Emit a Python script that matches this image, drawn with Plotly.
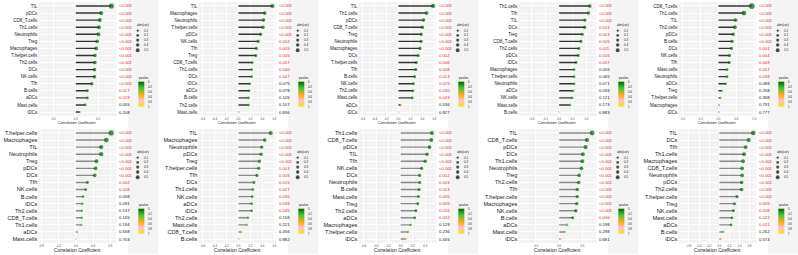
import plotly.graph_objects as go

W, H = 798, 255
LT = 0.0005  # stands for "<0.001"

# ---------------- data (one block per panel, row-major) ----------------
p1_cells = ["TIL", "pDCs", "CD8_T.cells", "Th1.cells", "Neutrophils", "Treg", "Macrophages", "T.helper.cells",
            "Th2.cells", "DCs", "NK.cells", "Tfh", "B.cells", "aDCs", "Mast.cells", "iDCs"]
p1_cor = [0.80, 0.57, 0.54, 0.52, 0.51, 0.48, 0.46, 0.43, 0.43, 0.42, 0.42, 0.36, 0.26, 0.26, 0.21, 0.09]
p1_p = [LT] * 12 + [0.017, 0.019, 0.055, 0.208]
p1_ticks = [-0.5, 0.0, 0.5]
p1_range = [-0.84, 0.91]

p2_cells = ["TIL", "Macrophages", "Neutrophils", "T.helper.cells", "pDCs", "NK.cells", "Tfh", "Treg",
            "CD8_T.cells", "Th1.cells", "DCs", "iDCs", "aDCs", "B.cells", "Th2.cells", "Mast.cells"]
p2_cor = [0.57, 0.44, 0.42, 0.41, 0.37, 0.33, 0.30, 0.29, 0.23, 0.22, 0.22, 0.19, 0.18, 0.17, 0.17, 0.01]
p2_p = [LT] * 5 + [0.002, 0.005, 0.005, 0.037, 0.040, 0.047, 0.075, 0.078, 0.105, 0.107, 0.836]
p2_ticks = [-0.6, -0.4, -0.2, 0.0, 0.2, 0.4, 0.6]
p2_range = [-0.672, 0.633]

p3_cells = ["TIL", "Th1.cells", "pDCs", "CD8_T.cells", "Treg", "Neutrophils", "Macrophages", "DCs",
            "T.helper.cells", "Tfh", "B.cells", "NK.cells", "Th2.cells", "Mast.cells", "aDCs", "iDCs"]
p3_cor = [0.58, 0.47, 0.42, 0.40, 0.38, 0.38, 0.36, 0.33, 0.30, 0.29, 0.27, 0.25, 0.24, 0.23, 0.04, 0.005]
p3_p = [LT] * 7 + [0.002, 0.006, 0.008, 0.013, 0.025, 0.030, 0.043, 0.536, 0.827]
p3_ticks = [-0.6, -0.4, -0.2, 0.0, 0.2, 0.4, 0.6]
p3_range = [-0.672, 0.633]

p4_cells = ["Th1.cells", "Tfh", "TIL", "DCs", "Treg", "CD8_T.cells", "Th2.cells", "pDCs", "iDCs",
            "Macrophages", "T.helper.cells", "Neutrophils", "aDCs", "NK.cells", "Mast.cells", "B.cells"]
p4_cor = [0.45, 0.43, 0.38, 0.376, 0.34, 0.32, 0.29, 0.28, 0.25, 0.22, 0.22, 0.22, 0.20, 0.19, 0.16, -0.005]
p4_p = [LT] * 3 + [0.001, 0.003, 0.005, 0.011, 0.016, 0.037, 0.055, 0.065, 0.071, 0.094, 0.121, 0.173, 0.883]
p4_ticks = [-0.4, -0.2, 0.0, 0.2, 0.4]
p4_range = [-0.60, 0.546]

p5_cells = ["CD8_T.cells", "Th1.cells", "TIL", "Th2.cells", "pDCs", "B.cells", "DCs", "NK.cells", "Tfh",
            "Mast.cells", "Neutrophils", "aDCs", "Treg", "T.helper.cells", "Macrophages", "iDCs"]
p5_cor = [0.93, 0.71, 0.48, 0.46, 0.41, 0.38, 0.36, 0.31, 0.30, 0.24, 0.24, 0.20, 0.10, 0.065, 0.03, 0.02]
p5_p = [LT] * 6 + [0.001, 0.004, 0.009, 0.037, 0.039, 0.088, 0.258, 0.368, 0.791, 0.777]
p5_ticks = [-1.0, -0.5, 0.0, 0.5, 1.0]
p5_range = [-1.12, 1.056]

p6_cells = ["T.helper.cells", "Macrophages", "TIL", "Neutrophils", "Treg", "pDCs", "DCs", "Tfh", "NK.cells",
            "B.cells", "iDCs", "Th2.cells", "CD8_T.cells", "Th1.cells", "aDCs", "Mast.cells"]
p6_cor = [0.82, 0.71, 0.59, 0.59, 0.48, 0.46, 0.44, 0.27, 0.23, 0.17, 0.15, 0.14, 0.14, 0.13, 0.04, 0.005]
p6_p = [LT] * 7 + [0.002, 0.008, 0.058, 0.091, 0.137, 0.165, 0.194, 0.558, 0.703]
p6_ticks = [-0.8, -0.4, 0.0, 0.4, 0.8]
p6_range = [-0.87, 0.94]

p7_cells = ["TIL", "Macrophages", "Neutrophils", "pDCs", "Treg", "T.helper.cells", "Tfh", "DCs", "Th1.cells",
            "NK.cells", "aDCs", "iDCs", "Th2.cells", "Mast.cells", "CD8_T.cells", "B.cells"]
p7_cor = [0.54, 0.44, 0.39, 0.38, 0.35, 0.34, 0.31, 0.26, 0.24, 0.23, 0.22, 0.22, 0.16, 0.14, 0.05, 0.01]
p7_p = [LT] * 5 + [0.001, 0.005, 0.015, 0.027, 0.035, 0.039, 0.045, 0.159, 0.221, 0.456, 0.882]
p7_ticks = [-0.6, -0.4, -0.2, 0.0, 0.2, 0.4, 0.6]
p7_range = [-0.672, 0.633]

p8_cells = ["Th1.cells", "CD8_T.cells", "pDCs", "TIL", "Tfh", "NK.cells", "DCs", "Neutrophils", "B.cells",
            "Mast.cells", "Treg", "Th2.cells", "aDCs", "Macrophages", "T.helper.cells", "iDCs"]
p8_cor = [0.51, 0.50, 0.47, 0.43, 0.40, 0.34, 0.31, 0.31, 0.30, 0.29, 0.28, 0.25, 0.23, 0.16, 0.12, 0.08]
p8_p = [LT] * 6 + [0.002, 0.003, 0.003, 0.005, 0.005, 0.016, 0.032, 0.129, 0.236, 0.465]
p8_ticks = [-0.6, -0.4, -0.2, 0.0, 0.2, 0.4]
p8_range = [-0.69, 0.58]

p9_cells = ["TIL", "CD8_T.cells", "pDCs", "DCs", "Th1.cells", "Neutrophils", "Treg", "Th2.cells", "Tfh",
            "T.helper.cells", "Macrophages", "NK.cells", "B.cells", "aDCs", "Mast.cells", "iDCs"]
p9_cor = [0.71, 0.60, 0.57, 0.51, 0.50, 0.48, 0.43, 0.42, 0.39, 0.39, 0.38, 0.36, 0.29, 0.17, 0.12, 0.03]
p9_p = [LT] * 12 + [0.006, 0.198, 0.298, 0.681]
p9_ticks = [-0.5, 0.0, 0.5]
p9_range = [-0.88, 0.80]

p10_cells = ["TIL", "DCs", "Tfh", "Th1.cells", "Macrophages", "CD8_T.cells", "Neutrophils", "pDCs", "Th2.cells",
             "T.helper.cells", "Treg", "NK.cells", "Mast.cells", "aDCs", "B.cells", "iDCs"]
p10_cor = [0.67, 0.58, 0.52, 0.49, 0.47, 0.45, 0.45, 0.44, 0.44, 0.35, 0.30, 0.28, 0.25, 0.23, 0.08, 0.03]
p10_p = [LT] * 10 + [0.005, 0.008, 0.022, 0.031, 0.262, 0.574]
p10_ticks = [-0.6, -0.4, -0.2, 0.0, 0.2, 0.4, 0.6]
p10_range = [-0.81, 0.73]

size_breaks = [0.1, 0.2, 0.3, 0.4, 0.5]
pval_ticks = [0, 0.2, 0.4, 0.6, 0.8, 1]

panels = [
    (p1_cells, p1_cor, p1_p, p1_ticks, p1_range),
    (p2_cells, p2_cor, p2_p, p2_ticks, p2_range),
    (p3_cells, p3_cor, p3_p, p3_ticks, p3_range),
    (p4_cells, p4_cor, p4_p, p4_ticks, p4_range),
    (p5_cells, p5_cor, p5_p, p5_ticks, p5_range),
    (p6_cells, p6_cor, p6_p, p6_ticks, p6_range),
    (p7_cells, p7_cor, p7_p, p7_ticks, p7_range),
    (p8_cells, p8_cor, p8_p, p8_ticks, p8_range),
    (p9_cells, p9_cor, p9_p, p9_ticks, p9_range),
    (p10_cells, p10_cor, p10_p, p10_ticks, p10_range),
]

# ---------------- styling ----------------
FONT = "Liberation Sans, Arial, sans-serif"
COLORSCALE = [[0.0, "#006400"], [0.25, "#3CC43C"], [0.5, "#FFA500"], [0.75, "#FFC0CB"], [1.0, "#F7E21B"]]
SEG_COLORS = ["#333333", "#8a8a8a"]
LABEL_SIZE = [4.5, 5.6]
TITLE_SIZE = [3.8, 4.7]
RED = "#E3262E"
N_GRAD = 40  # colour-bar gradient steps


def dot_size(a):
    return 1.8 + 4.2 * abs(a)


def fmt_tick(v):
    return f"{v:.1f}"


def fmt_p(p):
    return "<0.001" if p < 0.001 else f"{p:.3f}"


PANEL_X = [0, 160, 320, 480, 640]
ROW_Y = [0, 127]
PLOT_L, PLOT_R = 38.3, 116.3
PLOT_T, PLOT_B = 2.1, 115.9
CB_X0, CB_X1, CB_Y0, CB_Y1 = 138.3, 144.0, 81.7, 107.0

fig = go.Figure()
layout = dict(
    width=W, height=H, margin=dict(l=0, r=0, t=0, b=0),
    paper_bgcolor="white", plot_bgcolor="#F3F3F3", showlegend=False, template="none",
    font=dict(family=FONT, color="#1a1a1a"),
)
annotations = []

for i, (cells, cor, pv, ticks, xr) in enumerate(panels):
    row, col = divmod(i, 5)
    ox, oy = PANEL_X[col], ROW_Y[row]
    n_main, n_leg = 2 * i + 1, 2 * i + 2
    xm = "x" if n_main == 1 else f"x{n_main}"
    ym = "y" if n_main == 1 else f"y{n_main}"
    xl, yl = f"x{n_leg}", f"y{n_leg}"
    xkey = "xaxis" if n_main == 1 else f"xaxis{n_main}"
    ykey = "yaxis" if n_main == 1 else f"yaxis{n_main}"
    ca = "coloraxis" if i == 0 else f"coloraxis{i + 1}"
    idx = list(range(len(cells)))

    # segments
    sx, sy = [], []
    for k, c in enumerate(cor):
        sx += [0, c, None]
        sy += [k, k, None]
    fig.add_trace(go.Scatter(x=sx, y=sy, mode="lines", xaxis=xm, yaxis=ym,
                             line=dict(color=SEG_COLORS[row], width=1.4), hoverinfo="skip"))
    # dots
    fig.add_trace(go.Scatter(x=cor, y=idx, mode="markers", xaxis=xm, yaxis=ym,
                             marker=dict(size=[dot_size(c) for c in cor], color=pv, coloraxis=ca,
                                         line=dict(width=0))))

    layout[xkey] = dict(
        domain=[(ox + PLOT_L) / W, (ox + PLOT_R) / W], range=xr, anchor=ym,
        tickvals=ticks, ticktext=[fmt_tick(t) for t in ticks],
        tickfont=dict(size=2.8, color="#4d4d4d"), ticks="", showline=False, zeroline=False,
        showgrid=True, gridcolor="white", gridwidth=0.5, fixedrange=True,
    )
    layout[ykey] = dict(
        domain=[1 - (oy + PLOT_B) / H, 1 - (oy + PLOT_T) / H], range=[len(cells) - 0.45, -0.55], anchor=xm,
        tickvals=idx, ticktext=cells, tickfont=dict(size=LABEL_SIZE[row], color="#1a1a1a"), ticks="",
        showline=False, zeroline=False, showgrid=True, gridcolor="white", gridwidth=0.5,
        fixedrange=True,
    )
    # axis title
    annotations.append(dict(
        x=(ox + (PLOT_L + PLOT_R) / 2) / W, xref="paper", y=1 - (oy + 123.0) / H, yref="paper",
        text="Correlation Coefficient", showarrow=False, xanchor="center", yanchor="middle",
        font=dict(size=TITLE_SIZE[row], color="#1a1a1a"),
    ))

    # p-value labels on the right
    for k, p in enumerate(pv):
        annotations.append(dict(
            x=1, xref=f"{xm} domain", y=k, yref=ym, text=fmt_p(p), showarrow=False,
            xanchor="left", yanchor="middle", xshift=1,
            font=dict(size=4.2, color=RED if p < 0.05 else "#1a1a1a"),
        ))

    # legend axes (panel pixel units)
    layout[f"xaxis{n_leg}"] = dict(domain=[(ox + 128) / W, (ox + 158) / W], range=[128, 158], anchor=yl,
                                   visible=False, fixedrange=True)
    layout[f"yaxis{n_leg}"] = dict(domain=[1 - (oy + 127) / H, 1 - oy / H], range=[127, 0], anchor=xl,
                                   visible=False, fixedrange=True)
    # size legend
    leg_y = [30.7, 35.4, 40.1, 45.0, 50.2]
    fig.add_trace(go.Scatter(x=[137.7] * len(size_breaks), y=leg_y, mode="markers", xaxis=xl, yaxis=yl,
                             marker=dict(size=[dot_size(s) for s in size_breaks], color="black",
                                         line=dict(width=0)), cliponaxis=False, hoverinfo="skip"))
    for s, yy in zip(size_breaks, leg_y):
        annotations.append(dict(x=141.5, y=yy, xref=xl, yref=yl, text=f"{s:.1f}", showarrow=False,
                                xanchor="left", yanchor="middle", font=dict(size=3.0, color="#1a1a1a")))
    annotations.append(dict(x=134.5, y=24.5, xref=xl, yref=yl, text="abs(cor)", showarrow=False,
                            xanchor="left", yanchor="middle", font=dict(size=3.2, color="#1a1a1a")))

    # p-value colour bar (0 at top, 1 at bottom)
    edges_y = [CB_Y0 + (CB_Y1 - CB_Y0) * k / N_GRAD for k in range(N_GRAD + 1)]
    zvals = [[(k + 0.5) / N_GRAD] for k in range(N_GRAD)]
    fig.add_trace(go.Heatmap(x=[CB_X0, CB_X1], y=edges_y, z=zvals, coloraxis=ca, xaxis=xl, yaxis=yl,
                             hoverinfo="skip"))
    for t in pval_ticks:
        annotations.append(dict(x=CB_X1 + 1.8, y=CB_Y0 + (CB_Y1 - CB_Y0) * t, xref=xl, yref=yl,
                                text=f"{t:g}", showarrow=False, xanchor="left", yanchor="middle",
                                font=dict(size=2.8, color="#1a1a1a")))
    annotations.append(dict(x=136.5, y=77.5, xref=xl, yref=yl, text="pvalue", showarrow=False,
                            xanchor="left", yanchor="middle", font=dict(size=3.2, color="#1a1a1a")))

    layout[ca] = dict(cmin=0, cmax=1, colorscale=COLORSCALE, showscale=False)

layout["annotations"] = annotations
fig.update_layout(**layout)
fig.write_html("out.html", config={"displayModeBar": False},
               post_script="document.body.style.margin='0';document.body.style.overflow='hidden';")
